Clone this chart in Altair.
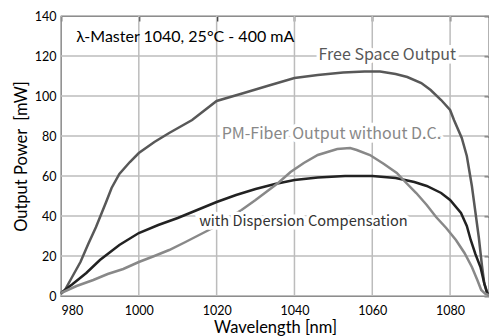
import altair as alt
import pandas as pd

# Free Space Output
wl_free = [980, 981, 983, 985, 987, 989, 991.6, 993, 995, 997.7, 1000, 1004, 1007.8, 1013.7, 1020,
           1027, 1033, 1040, 1046, 1052.5, 1058, 1062, 1066, 1069, 1072.6, 1075, 1077.7, 1080, 1081,
           1083, 1084.3, 1085.6, 1086.5, 1087.4, 1088.2, 1088.8, 1089.5, 1090]
p_free = [1, 3, 10, 17, 26, 34.5, 47, 54, 61, 67, 71.5, 77, 81.5, 88, 97.5,
          101.5, 105, 109, 110.5, 111.7, 112.3, 112.2, 111, 109.5, 106.5, 103, 98, 93, 88,
          79, 70, 55, 42, 29, 15, 6, 2, 0.5]

# with Dispersion Compensation
wl_dc = [980, 983, 986.5, 990, 995, 1000, 1005, 1010, 1015, 1020, 1025, 1030, 1035, 1040, 1046,
         1053, 1060, 1066, 1070.8, 1074, 1077.7, 1080, 1082.8, 1084.3, 1085.3, 1086.5, 1087.8,
         1088.7, 1089.5, 1090]
p_dc = [1.5, 6, 11.5, 18, 25.5, 31.5, 35.5, 39, 43, 47, 50.5, 53.5, 56, 58, 59.3,
        60, 60, 59, 57, 55, 51.5, 48, 41.5, 35, 28, 21, 14.5,
        7, 1.5, 0.5]

# PM-Fiber Output without D.C.
wl_pm = [980, 984, 988.3, 992, 996, 1000, 1004, 1007.8, 1012, 1015, 1018, 1020, 1023, 1026.4, 1030,
         1035.8, 1039, 1042.4, 1046, 1051, 1054.3, 1056, 1059.4, 1063, 1066.3, 1068.5, 1071.3,
         1074, 1076.4, 1079, 1081.5, 1083.7, 1085.6, 1087, 1088, 1089, 1090]
p_pm = [1.5, 5, 8, 11, 13.5, 17, 20, 23, 27, 30, 33, 35, 39, 43, 48,
        56.5, 62, 66.5, 70.5, 73.5, 74, 73, 70.5, 66, 61.5, 57, 51.5,
        45.5, 39.5, 34, 28, 21.5, 14.5, 8, 3, 1.2, 0.5]

series_names = ["Free Space Output", "with Dispersion Compensation", "PM-Fiber Output without D.C."]
series_colors = ["#585858", "#222222", "#888888"]

# Title annotation
title_text = ["λ-Master 1040, 25°C - 400 mA"]
title_x = [983.9]
title_y = [129.5]

# Curve labels
ann_text = ["Free Space Output", "PM-Fiber Output without D.C.", "with Dispersion Compensation"]
ann_x = [1046.2, 1021.3, 1015.5]
ann_y = [120.5, 81, 37]
ann_color = ["#585858", "#888888", "#333333"]
ann_size = [16, 16, 14.6]

x_ticks = [980, 1000, 1020, 1040, 1060, 1080]
y_ticks = [0, 20, 40, 60, 80, 100, 120, 140]

W, H = 428, 280

frames = []
for name, xs, ys in zip(series_names, [wl_free, wl_dc, wl_pm], [p_free, p_dc, p_pm]):
    frames.append(pd.DataFrame({"wl": xs, "p": ys, "series": name}))
df = pd.concat(frames, ignore_index=True)
df["order"] = range(len(df))

ann = pd.DataFrame({"text": ann_text, "wl": ann_x, "p": ann_y, "color": ann_color, "size": ann_size})
ttl = pd.DataFrame({"text": title_text, "wl": title_x, "p": title_y})
xg = pd.DataFrame({"wl": x_ticks})
yg = pd.DataFrame({"p": y_ticks})

xscale = alt.Scale(domain=[980, 1090], nice=False, zero=False)
yscale = alt.Scale(domain=[0, 140], nice=False, zero=True)

grid_style = dict(color="#bcbcbc", strokeWidth=1.5)
ygrid = alt.Chart(yg).mark_rule(**grid_style).encode(
    y=alt.Y("p:Q", scale=yscale, axis=None),
    x=alt.value(0), x2=alt.value(W),
)
xgrid = alt.Chart(xg).mark_rule(**grid_style).encode(
    x=alt.X("wl:Q", scale=xscale, axis=None),
    y=alt.value(0), y2=alt.value(H),
)

lines = alt.Chart(df).mark_line(strokeWidth=2.5).encode(
    x=alt.X("wl:Q", scale=xscale,
            axis=alt.Axis(values=x_ticks, format="d", title="Wavelength [nm]", grid=False, ticks=False,
                          domain=False, labelPadding=8, titlePadding=3, titleFontSize=16.5)),
    y=alt.Y("p:Q", scale=yscale,
            axis=alt.Axis(values=y_ticks, format="d", title="Output Power \u00a0[mW]", grid=False,
                          ticks=False, domain=False, labelPadding=5, titlePadding=5,
                          titleFontSize=16.5)),
    color=alt.Color("series:N", scale=alt.Scale(domain=series_names, range=series_colors), legend=None),
    order="order:Q",
)

mirror = alt.Chart(df).mark_line(opacity=0).encode(
    x=alt.X("wl:Q", scale=xscale,
            axis=alt.Axis(orient="top", values=x_ticks, title=None, labels=False, grid=False,
                          domain=False, tickSize=5, offset=-5, tickWidth=1.5)),
    y=alt.Y("p:Q", scale=yscale,
            axis=alt.Axis(orient="right", values=y_ticks, title=None, labels=False, grid=False,
                          domain=False, tickSize=5, offset=-5, tickWidth=1.5)),
    detail="series:N",
)

halo = alt.Chart(ann).mark_text(align="left", baseline="middle",
                                stroke="white", strokeWidth=7, font="Noto Sans CJK JP").encode(
    x=alt.X("wl:Q", scale=xscale, axis=None),
    y=alt.Y("p:Q", scale=yscale, axis=None),
    text="text:N",
    size=alt.Size("size:Q", scale=None, legend=None),
)

texts = alt.Chart(ann).mark_text(align="left", baseline="middle", font="Noto Sans CJK JP").encode(
    x=alt.X("wl:Q", scale=xscale, axis=None),
    y=alt.Y("p:Q", scale=yscale, axis=None),
    text="text:N",
    color=alt.Color("color:N", scale=None),
    size=alt.Size("size:Q", scale=None, legend=None),
)

title_mark = alt.Chart(ttl).mark_text(align="left", baseline="middle", fontSize=16,
                                      font="Lato", color="black").encode(
    x=alt.X("wl:Q", scale=xscale, axis=None),
    y=alt.Y("p:Q", scale=yscale, axis=None),
    text="text:N",
)

chart = alt.layer(xgrid, ygrid, lines, mirror, halo, texts, title_mark).resolve_axis(
    x="independent", y="independent").properties(
    width=W, height=H,
    autosize=alt.AutoSizeParams(type="none"),
    padding={"left": 53, "top": 8, "right": 0, "bottom": 44},
).configure_view(stroke="black", strokeWidth=1.2).configure_axis(
    labelFont="Lato", labelFontSize=12.5, labelColor="black",
    titleFont="Lato", titleFontWeight="normal", titleColor="black",
    tickColor="black",
)

chart.save("out.html", embed_options={"renderer": "svg", "actions": False})
